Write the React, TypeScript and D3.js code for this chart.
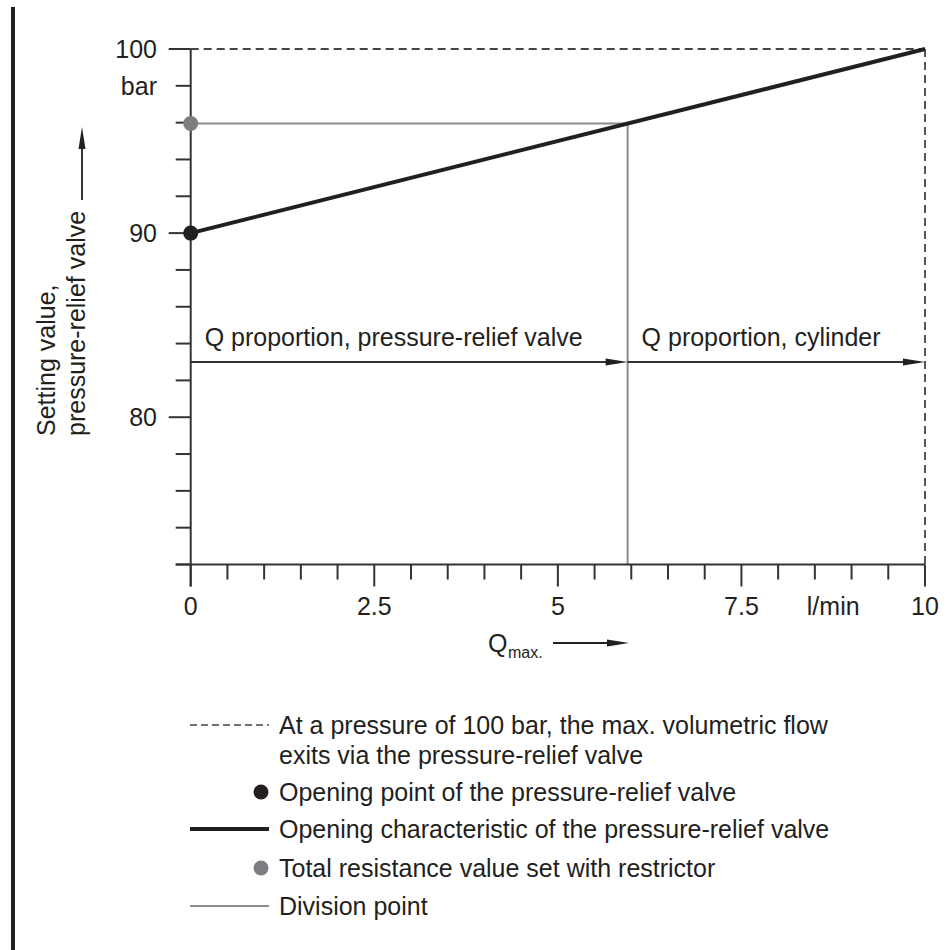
import React from "react";
import * as d3 from "d3";

// ---- data ----
const qDomain = [0, 10];
const pDomain = [72, 100];
const xMajorTicks = [0, 2.5, 5, 7.5, 10];
const xMinorTicks = [0.5, 1, 1.5, 2, 3, 3.5, 4, 4.5, 5.5, 6, 6.5, 7, 8, 8.5, 9, 9.5];
const xTickLabels = ["0", "2.5", "5", "7.5", "10"];
const xUnitPos = 8.75;
const xUnitLabel = "l/min";
const yMajorTicks = [80, 90, 100];
const yMinorTicks = [72, 74, 76, 78, 82, 84, 86, 88, 92, 94, 96, 98];
const yLabelValues = [100, 98, 90, 80];
const yLabelTexts = ["100", "bar", "90", "80"];
const characteristicQ = [0, 10];
const characteristicP = [90, 100];
const openingPoint = { q: 0, p: 90 };
const restrictorPoint = { q: 0, p: 95.95 };
const divisionPoint = { q: 5.95, p: 95.95 };
const maxFlowPoint = { q: 10, p: 100 };
const flowArrowP = 83;
const flowLabels = ["Q proportion, pressure-relief valve", "Q proportion, cylinder"];
const yTitleLines = ["Setting value,", "pressure-relief valve"];
const legendLabels = [
  ["At a pressure of 100 bar, the max. volumetric flow", "exits via the pressure-relief valve"],
  ["Opening point of the pressure-relief valve"],
  ["Opening characteristic of the pressure-relief valve"],
  ["Total resistance value set with restrictor"],
  ["Division point"],
];
const legendKinds = ["dash", "dot", "thick", "greydot", "greyline"];

// ---- style ----
const INK = "#231f20";
const AXIS = "#333333";
const GREY = "#8c8c8c";
const GREYDOT = "#7d7e82";
const FONT = "'Liberation Sans', Arial, Helvetica, sans-serif";
const FS = 25;

function arrowHead(tx: number, ty: number, dir: "right" | "up", len = 22, half = 3.5) {
  if (dir === "right") return `M${tx},${ty} L${tx - len},${ty - half} L${tx - len},${ty + half} Z`;
  return `M${tx},${ty} L${tx - half},${ty + len} L${tx + half},${ty + len} Z`;
}

export default function App() {
  const x = d3.scaleLinear().domain(qDomain).range([190.7, 925]);
  const y = d3.scaleLinear().domain(pDomain).range([564.5, 49]);
  const line = d3.line<number>().x((d, i) => x(characteristicQ[i])).y((d, i) => y(characteristicP[i]));

  const x0 = x(0), y0 = y(pDomain[0]);
  const xd = x(divisionPoint.q), yd = y(divisionPoint.p);
  const xm = x(maxFlowPoint.q), ym = y(maxFlowPoint.p);
  const ya = y(flowArrowP);

  const legendRowY = [725, 792, 829, 868, 906];
  const legendTextX = 279;

  return (
    <svg width={950} height={950} style={{ position: "absolute", left: 0, top: 0, background: "#fff" }}
      fontFamily={FONT} fill={INK}>
      {/* left border bar */}
      <rect x={11} y={7} width={4} height={943} fill={INK} />

      {/* dashed max-flow lines */}
      <line x1={x0} y1={ym} x2={xm} y2={ym} stroke="#444" strokeWidth={1.8} strokeDasharray="8,5" />
      <line x1={xm} y1={ym} x2={xm} y2={y0} stroke="#444" strokeWidth={1.8} strokeDasharray="8,5" />

      {/* division lines */}
      <line x1={x0} y1={yd} x2={xd} y2={yd} stroke={GREY} strokeWidth={2} />
      <line x1={xd} y1={yd} x2={xd} y2={y0} stroke={GREY} strokeWidth={2} />

      {/* axes */}
      <line x1={x0} y1={ym} x2={x0} y2={y0 + 22} stroke={AXIS} strokeWidth={2} />
      <line x1={x0 - 15} y1={y0} x2={xm} y2={y0} stroke={AXIS} strokeWidth={2} />
      {xMajorTicks.map((t) => (
        <line key={"xM" + t} x1={x(t)} x2={x(t)} y1={y0} y2={y0 + 22} stroke={AXIS} strokeWidth={2} />
      ))}
      {xMinorTicks.map((t) => (
        <line key={"xm" + t} x1={x(t)} x2={x(t)} y1={y0} y2={y0 + 15} stroke={AXIS} strokeWidth={2} />
      ))}
      {yMajorTicks.map((t) => (
        <line key={"yM" + t} x1={x0 - 22} x2={x0} y1={y(t)} y2={y(t)} stroke={AXIS} strokeWidth={2} />
      ))}
      {yMinorTicks.map((t) => (
        <line key={"ym" + t} x1={x0 - 15} x2={x0} y1={y(t)} y2={y(t)} stroke={AXIS} strokeWidth={2} />
      ))}
      {xMajorTicks.map((t, i) => (
        <text key={"xl" + t} x={x(t)} y={615} fontSize={FS} textAnchor="middle">{xTickLabels[i]}</text>
      ))}
      <text x={x(xUnitPos)} y={615} fontSize={FS} textAnchor="middle">{xUnitLabel}</text>
      {yLabelValues.map((v, i) => (
        <text key={"yl" + v} x={157} y={y(v)} dy="0.35em" fontSize={FS} textAnchor="end">{yLabelTexts[i]}</text>
      ))}

      {/* characteristic */}
      <path d={line(characteristicQ) || ""} stroke={INK} strokeWidth={4} fill="none" />

      {/* flow arrows */}
      <line x1={x0} y1={ya} x2={xd - 10} y2={ya} stroke={AXIS} strokeWidth={2} />
      <path d={arrowHead(xd, ya, "right")} fill={INK} />
      <line x1={xd} y1={ya} x2={xm - 10} y2={ya} stroke={AXIS} strokeWidth={2} />
      <path d={arrowHead(xm, ya, "right")} fill={INK} />
      <text x={x0 + 14} y={ya - 16} fontSize={FS}>{flowLabels[0]}</text>
      <text x={xd + 14} y={ya - 16} fontSize={FS}>{flowLabels[1]}</text>

      {/* points */}
      <circle cx={x(openingPoint.q)} cy={y(openingPoint.p)} r={7.5} fill={INK} />
      <circle cx={x(restrictorPoint.q)} cy={y(restrictorPoint.p)} r={7.5} fill={GREYDOT} />

      {/* x title */}
      <text x={488} y={652} fontSize={FS}>Q</text>
      <text x={508} y={658} fontSize={16}>max.</text>
      <line x1={553} y1={643} x2={612} y2={643} stroke={INK} strokeWidth={1.8} />
      <path d={arrowHead(629, 643, "right")} fill={INK} />

      {/* y title */}
      <g transform="translate(0,436) rotate(-90)">
        <text x={0} y={55} fontSize={FS}>{yTitleLines[0]}</text>
        <text x={0} y={85} fontSize={FS}>{yTitleLines[1]}</text>
      </g>
      <line x1={82} y1={200} x2={82} y2={145} stroke={INK} strokeWidth={1.8} />
      <path d={arrowHead(82, 127, "up")} fill={INK} />

      {/* legend */}
      {legendKinds.map((k, i) => {
        const yy = legendRowY[i];
        let sym = null;
        if (k === "dash") sym = <line x1={190} x2={269} y1={yy} y2={yy} stroke="#444" strokeWidth={1.5} strokeDasharray="7,4" />;
        if (k === "dot") sym = <circle cx={261} cy={yy} r={7.5} fill={INK} />;
        if (k === "thick") sym = <line x1={190} x2={269} y1={yy} y2={yy} stroke={INK} strokeWidth={4} />;
        if (k === "greydot") sym = <circle cx={261} cy={yy} r={7.5} fill={GREYDOT} />;
        if (k === "greyline") sym = <line x1={190} x2={269} y1={yy} y2={yy} stroke={GREY} strokeWidth={2} />;
        return (
          <g key={k}>
            {sym}
            {legendLabels[i].map((t, j) => (
              <text key={j} x={legendTextX} y={yy + j * 30} dy="0.35em" fontSize={FS}>{t}</text>
            ))}
          </g>
        );
      })}
    </svg>
  );
}
